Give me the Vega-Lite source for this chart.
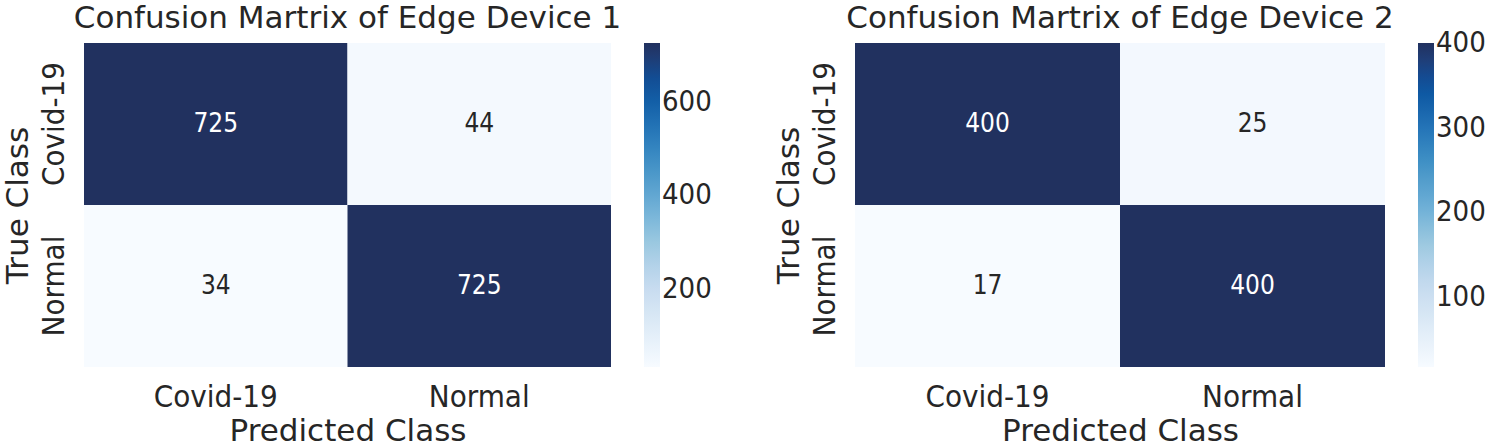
{
  "$schema": "https://vega.github.io/schema/vega-lite/v6.json",
  "background": "white",
  "padding": {"left": 2, "top": 3, "right": 5, "bottom": 0},
  "config": {
    "font": "DejaVu Sans",
    "view": {"stroke": null},
    "title": {"fontSize": 31, "fontWeight": "normal", "color": "#262626", "anchor": "middle", "offset": 8},
    "axis": {"domain": false, "ticks": false, "grid": false, "labelFont": "DejaVu Sans Condensed", "labelFontSize": 31, "titleFontSize": 31, "titleFontWeight": "normal", "labelColor": "#262626", "titleColor": "#262626"},
    "legend": {"gradientLength": 324, "gradientThickness": 16, "offset": 33, "labelFont": "DejaVu Sans Condensed", "labelFontSize": 29, "labelOffset": 20, "gradientStrokeWidth": 0, "labelColor": "#262626", "direction": "vertical"}
  },
  "datasets": {
    "d1": [
      {"actual": "Covid-19", "predicted": "Covid-19", "count": 725},
      {"actual": "Covid-19", "predicted": "Normal", "count": 44},
      {"actual": "Normal", "predicted": "Covid-19", "count": 34},
      {"actual": "Normal", "predicted": "Normal", "count": 725}
    ],
    "d2": [
      {"actual": "Covid-19", "predicted": "Covid-19", "count": 400},
      {"actual": "Covid-19", "predicted": "Normal", "count": 25},
      {"actual": "Normal", "predicted": "Covid-19", "count": 17},
      {"actual": "Normal", "predicted": "Normal", "count": 400}
    ]
  },
  "spacing": 61,
  "resolve": {"scale": {"color": "independent"}, "legend": {"color": "independent"}},
  "hconcat": [
    {
      "title": "Confusion Martrix of Edge Device 1",
      "width": 527,
      "height": 324,
      "data": {"name": "d1"},
      "encoding": {
        "x": {"field": "predicted", "type": "nominal", "sort": ["Covid-19", "Normal"], "title": "Predicted Class", "axis": {"labelAngle": 0, "labelPadding": 15, "titlePadding": 4}},
        "y": {"field": "actual", "type": "nominal", "sort": ["Covid-19", "Normal"], "title": "True Class", "axis": {"labelAngle": -90, "labelAlign": "center", "labelBaseline": "bottom", "labelPadding": 14, "titlePadding": 4}}
      },
      "layer": [
        {
          "mark": "rect",
          "encoding": {
            "color": {"field": "count", "type": "quantitative",
              "scale": {"range": ["#f7fbff", "#deebf7", "#c6dbef", "#9ecae1", "#6baed6", "#4292c6", "#2171b5", "#08519c", "#21315f"]},
              "legend": {"values": [200, 400, 600], "title": null, "encode": {"labels": {"update": {"baseline": {"value": "middle"}}}}}}
          }
        },
        {
          "mark": {"type": "text", "fontSize": 26, "font": "DejaVu Sans Condensed"},
          "encoding": {
            "text": {"field": "count", "type": "quantitative"},
            "color": {"condition": {"test": "datum.count > 200", "value": "white"}, "value": "#262626"}
          }
        }
      ]
    },
    {
      "title": "Confusion Martrix of Edge Device 2",
      "width": 530,
      "height": 324,
      "data": {"name": "d2"},
      "encoding": {
        "x": {"field": "predicted", "type": "nominal", "sort": ["Covid-19", "Normal"], "title": "Predicted Class", "axis": {"labelAngle": 0, "labelPadding": 15, "titlePadding": 4}},
        "y": {"field": "actual", "type": "nominal", "sort": ["Covid-19", "Normal"], "title": "True Class", "axis": {"labelAngle": -90, "labelAlign": "center", "labelBaseline": "bottom", "labelPadding": 14, "titlePadding": 4}}
      },
      "layer": [
        {
          "mark": "rect",
          "encoding": {
            "color": {"field": "count", "type": "quantitative",
              "scale": {"range": ["#f7fbff", "#deebf7", "#c6dbef", "#9ecae1", "#6baed6", "#4292c6", "#2171b5", "#08519c", "#21315f"]},
              "legend": {"values": [100, 200, 300, 400], "title": null, "encode": {"labels": {"update": {"baseline": {"value": "middle"}}}}}}
          }
        },
        {
          "mark": {"type": "text", "fontSize": 26, "font": "DejaVu Sans Condensed"},
          "encoding": {
            "text": {"field": "count", "type": "quantitative"},
            "color": {"condition": {"test": "datum.count > 200", "value": "white"}, "value": "#262626"}
          }
        }
      ]
    }
  ]
}
